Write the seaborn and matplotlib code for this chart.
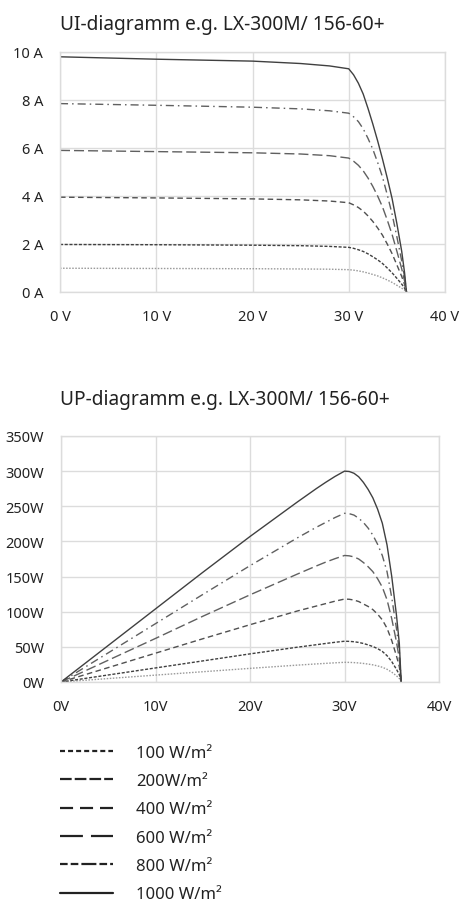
import pandas as pd
import matplotlib.pyplot as plt
from matplotlib.lines import Line2D
import seaborn as sns

# irradiance levels
labels = ["100 W/m²", "200W/m²", "400 W/m²", "600 W/m²", "800 W/m²", "1000 W/m²"]

# UI curves
volt_ui = [0, 10, 20, 25, 28, 30, 30.5, 31, 31.5, 32, 32.5, 33, 33.5, 34, 34.5, 35, 35.5, 35.8, 36]
amp_100 = [0.99, 0.98, 0.97, 0.96, 0.95, 0.93, 0.91, 0.88, 0.84, 0.79, 0.73, 0.67, 0.59, 0.50, 0.40, 0.28, 0.16, 0.08, 0]
amp_200 = [1.98, 1.97, 1.95, 1.93, 1.90, 1.86, 1.82, 1.76, 1.69, 1.59, 1.47, 1.34, 1.19, 1.00, 0.80, 0.57, 0.33, 0.16, 0]
amp_400 = [3.95, 3.92, 3.88, 3.84, 3.79, 3.72, 3.63, 3.52, 3.37, 3.17, 2.94, 2.67, 2.37, 2.00, 1.60, 1.13, 0.65, 0.31, 0]
amp_600 = [5.90, 5.85, 5.80, 5.75, 5.68, 5.58, 5.45, 5.28, 5.05, 4.75, 4.40, 4.00, 3.55, 3.00, 2.40, 1.70, 0.97, 0.46, 0]
amp_800 = [7.85, 7.78, 7.70, 7.63, 7.55, 7.45, 7.30, 7.10, 6.80, 6.40, 5.95, 5.40, 4.80, 4.05, 3.25, 2.30, 1.30, 0.62, 0]
amp_1000 = [9.80, 9.70, 9.62, 9.52, 9.42, 9.30, 9.05, 8.70, 8.25, 7.65, 7.00, 6.30, 5.55, 4.75, 3.90, 2.85, 1.70, 0.80, 0]

# UP curves
volt_up = [0, 5, 10, 15, 20, 25, 27, 28, 29, 30, 30.5, 31, 31.5, 32, 32.5, 33, 33.5, 34, 34.5, 35, 35.5, 35.8, 36]
watt_100 = [0, 4.9, 9.8, 14.6, 19.4, 24, 25.7, 26.5, 27.3, 28, 27.9, 27.6, 27.1, 26.4, 25.5, 24.4, 22.9, 21, 18.1, 14, 8.8, 5.1, 0]
watt_200 = [0, 10, 20, 30, 40, 49.5, 53, 54.8, 56.5, 58, 57.8, 57.3, 56.3, 54.8, 52.8, 50.5, 47.5, 43.5, 37.5, 29, 18, 10.5, 0]
watt_400 = [0, 20.5, 41, 61.5, 81.5, 101, 108, 111.5, 115, 118, 117.7, 116.6, 114.5, 111, 107.5, 103, 96.5, 88.5, 76.5, 59, 37, 22, 0]
watt_600 = [0, 31, 62, 93.5, 124, 153.5, 165, 170.5, 175.5, 180, 179.5, 178, 175, 170, 164, 157, 147, 135, 117, 90, 57, 33, 0]
watt_800 = [0, 41.5, 83, 124.5, 165.5, 205, 220, 227, 234, 240, 239.5, 237.5, 233, 227, 219, 209, 196, 180, 157, 120, 76, 44, 0]
watt_1000 = [0, 52, 104, 156, 207, 256, 275, 284, 292.5, 300, 299.5, 297, 292, 284, 274, 262, 246, 226, 195, 150, 95, 55, 0]

amps = [amp_100, amp_200, amp_400, amp_600, amp_800, amp_1000]
watts = [watt_100, watt_200, watt_400, watt_600, watt_800, watt_1000]

ui = pd.concat([pd.DataFrame({"V": volt_ui, "I": a, "G": l}) for a, l in zip(amps, labels)])
up = pd.concat([pd.DataFrame({"V": volt_up, "P": w, "G": l}) for w, l in zip(watts, labels)])

sns.set_theme(style="whitegrid")
plt.rcParams['font.family'] = ['Noto Sans', 'DejaVu Sans']
plt.rcParams['lines.scale_dashes'] = False

pal = dict(zip(labels, ["#9a9a9a", "#404040", "#505050", "#606060", "#606060", "#404040"]))
dash = dict(zip(labels, [(1.1, 1.1), (2.2, 1.2), (4.0, 2.5), (7.2, 2.9), (5.8, 2.9, 1.1, 2.9), ""]))
# the legend shows its own, coarser patterns
leg_dash = [(0, (3.6, 2.2)), (0, (8.4, 2.2)), (0, (9.4, 5.0)), (0, (16.5, 5.8)),
            (0, (5.5, 2.2, 5.5, 2.2, 10.8, 2.2, 5.5, 2.2, 2.5, 20)), "-"]

fig = plt.figure(figsize=(4.62, 9.04), dpi=100)
ax1 = fig.add_axes([60 / 462, 1 - 293 / 904, 385 / 462, 240 / 904])
ax2 = fig.add_axes([61 / 462, 1 - 683 / 904, 378 / 462, 246 / 904])

sns.lineplot(data=ui, x="V", y="I", hue="G", style="G", hue_order=labels, style_order=labels,
             palette=pal, dashes=dash, linewidth=1.0, legend=False, ax=ax1)
sns.lineplot(data=up, x="V", y="P", hue="G", style="G", hue_order=labels, style_order=labels,
             palette=pal, dashes=dash, linewidth=1.0, legend=False, ax=ax2)

ax1.set_xlim(0, 40)
ax1.set_ylim(0, 10)
ax1.set_xticks(range(0, 41, 10))
ax1.set_xticklabels([f"{v} V" for v in range(0, 41, 10)])
ax1.set_yticks(range(0, 11, 2))
ax1.set_yticklabels([f"{v} A" for v in range(0, 11, 2)])

ax2.set_xlim(0, 40)
ax2.set_ylim(0, 350)
ax2.set_xticks(range(0, 41, 10))
ax2.set_xticklabels([f"{v}V" for v in range(0, 41, 10)])
ax2.set_yticks(range(0, 351, 50))
ax2.set_yticklabels([f"{v}W" for v in range(0, 351, 50)])

for ax in (ax1, ax2):
    ax.set_xlabel("")
    ax.set_ylabel("")
    ax.grid(True, color="#dcdcdc", linewidth=1.0)
    for s in ax.spines.values():
        s.set_color("#dcdcdc")
        s.set_linewidth(1.0)
    ax.tick_params(axis="both", length=0, labelsize=10.5, colors="#222222")
    ax.tick_params(axis="y", pad=12)
    ax.tick_params(axis="x", pad=12)

fig.text(60 / 462, 1 - 25 / 904, "UI-diagramm e.g. LX-300M/ 156-60+", fontsize=13.8,
         color="#222222", va="center", ha="left")
fig.text(60 / 462, 1 - 400 / 904, "UP-diagramm e.g. LX-300M/ 156-60+", fontsize=13.8,
         color="#222222", va="center", ha="left")

handles = [Line2D([], [], color="#222222", linewidth=1.6, linestyle=d) for d in leg_dash]
fig.legend(handles, labels, loc="upper left", bbox_to_anchor=(53 / 462, 1 - 739 / 904),
           borderaxespad=0, frameon=False, fontsize=12, handlelength=3.2, handletextpad=1.4,
           labelspacing=0.74, labelcolor="#222222")

fig.savefig("out.png", dpi=100)
